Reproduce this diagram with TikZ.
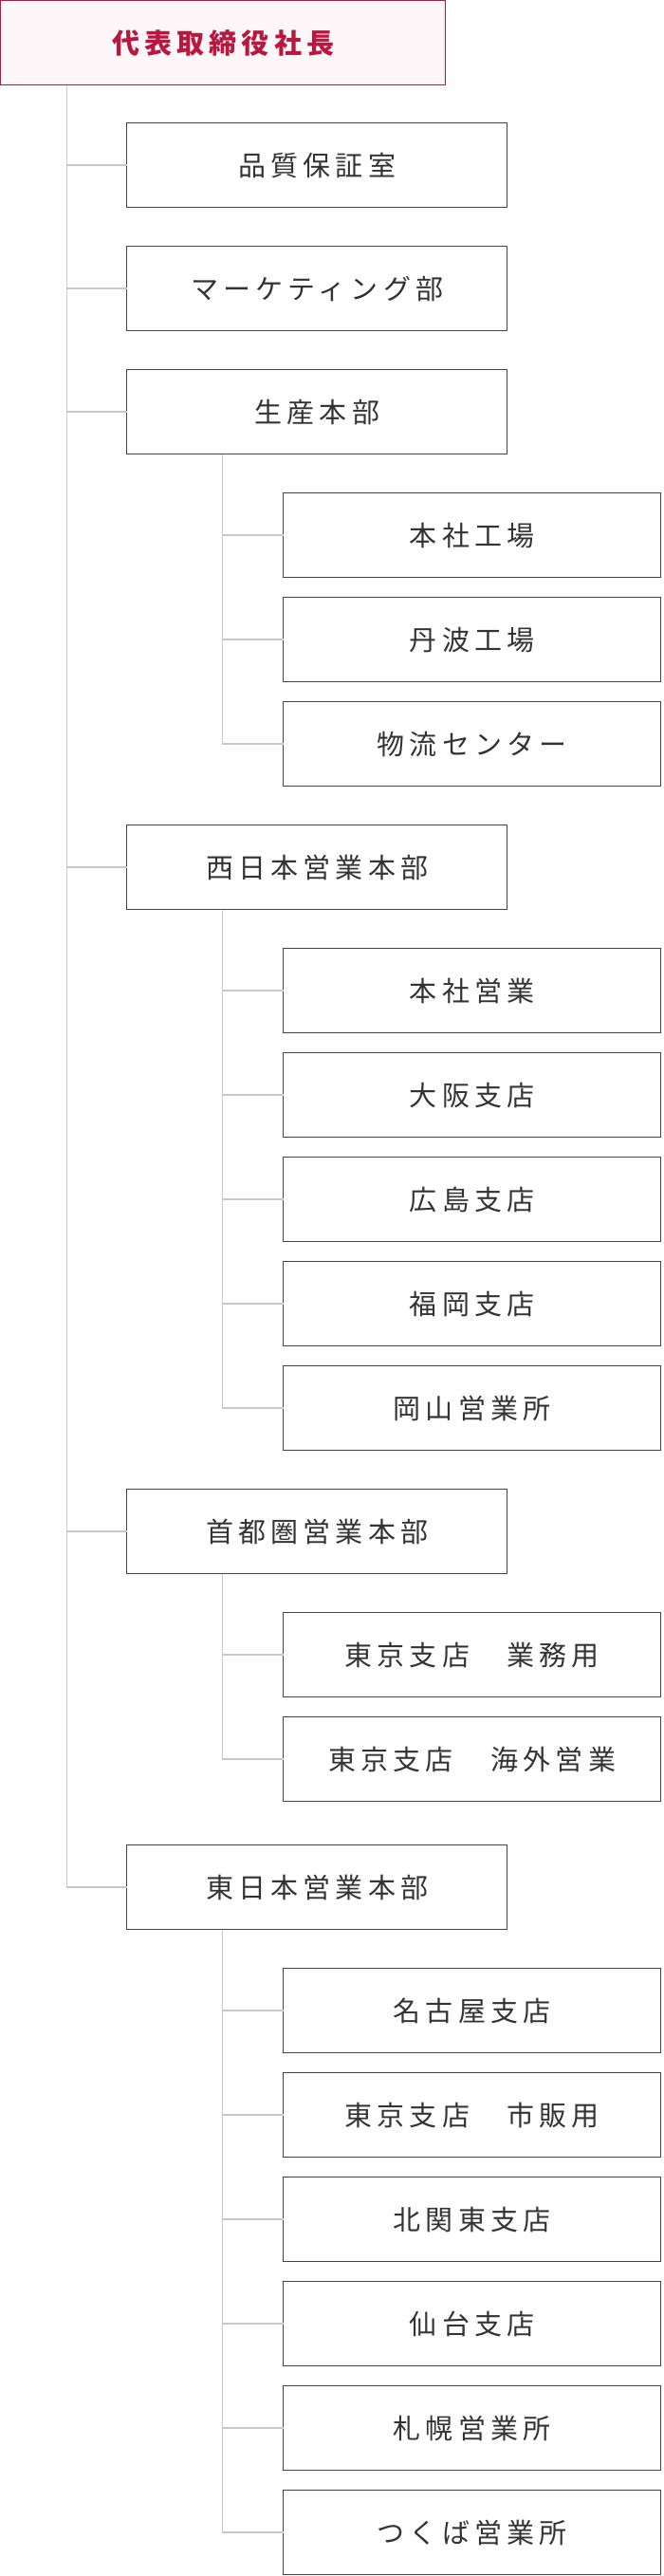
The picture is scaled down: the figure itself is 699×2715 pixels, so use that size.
\documentclass[tikz,border=0pt]{standalone}
\usepackage{fontspec}
\setmainfont{Noto Sans CJK JP}
\newfontfamily\jpfont[LetterSpace=18]{Noto Sans CJK JP}
\usepackage{xcolor}
\usetikzlibrary{positioning}

\definecolor{ceored}{HTML}{B8173F}
\definecolor{ceofill}{HTML}{FDF7F9}
\definecolor{boxline}{HTML}{444444}
\definecolor{boxtext}{HTML}{333333}
\definecolor{linkgray}{HTML}{C8C8C8}

\begin{document}
\begin{tikzpicture}[
  node distance=41pt,
  every node/.style={outer sep=0pt},
  ceo/.style={draw=ceored, fill=ceofill, line width=1.4pt, minimum width=469pt, minimum height=89pt, inner sep=0pt, text=ceored, font=\jpfont\bfseries\fontsize{29pt}{34pt}\selectfont},
  unit/.style={draw=boxline, line width=1.3pt, minimum width=401pt, minimum height=89pt, inner sep=0pt, text=boxtext, font=\jpfont\fontsize{29pt}{34pt}\selectfont},
  sub/.style={unit, minimum width=398pt},
  link/.style={draw=linkgray, line width=1.5pt}
]
\useasboundingbox (0,0) rectangle (699pt,-2715pt);

\node[ceo, anchor=north west] (ceo) at (0.7pt,-0.7pt) {代表取締役社長};

\node[unit, below=40pt of ceo.south west, anchor=north west, xshift=133pt] (hinshitsu) {品質保証室};
\node[unit, below=of hinshitsu] (marketing) {マーケティング部};
\node[unit, below=of marketing] (seisan) {生産本部};

% production
\node[sub, below=of seisan.south west, anchor=north west, xshift=165pt] (honsha) {本社工場};
\node[sub, below=21pt of honsha] (tamba) {丹波工場};
\node[sub, below=21pt of tamba] (butsuryu) {物流センター};

% west
\node[unit, below=of butsuryu.south west, anchor=north west, xshift=-165pt] (nishi) {西日本営業本部};
\node[sub, below=of nishi.south west, anchor=north west, xshift=165pt] (honei) {本社営業};
\node[sub, below=21pt of honei] (osaka) {大阪支店};
\node[sub, below=21pt of osaka] (hiroshima) {広島支店};
\node[sub, below=21pt of hiroshima] (fukuoka) {福岡支店};
\node[sub, below=21pt of fukuoka] (okayama) {岡山営業所};

% capital
\node[unit, below=of okayama.south west, anchor=north west, xshift=-165pt] (shuto) {首都圏営業本部};
\node[sub, below=of shuto.south west, anchor=north west, xshift=165pt] (gyomu) {東京支店　業務用};
\node[sub, below=21pt of gyomu] (kaigai) {東京支店　海外営業};

% east
\node[unit, below=46pt of kaigai.south west, anchor=north west, xshift=-165pt] (higashi) {東日本営業本部};
\node[sub, below=of higashi.south west, anchor=north west, xshift=165pt] (nagoya) {名古屋支店};
\node[sub, below=21pt of nagoya] (shihan) {東京支店　市販用};
\node[sub, below=21pt of shihan] (kitakanto) {北関東支店};
\node[sub, below=21pt of kitakanto] (sendai) {仙台支店};
\node[sub, below=21pt of sendai] (sapporo) {札幌営業所};
\node[sub, below=21pt of sapporo] (tsukuba) {つくば営業所};

\foreach \u in {hinshitsu,marketing,seisan,nishi,shuto,higashi}
  \draw[link] ([xshift=70pt]ceo.south west) |- (\u.west);
\foreach \s in {honsha,tamba,butsuryu}
  \draw[link] ([xshift=101pt]seisan.south west) |- (\s.west);
\foreach \s in {honei,osaka,hiroshima,fukuoka,okayama}
  \draw[link] ([xshift=101pt]nishi.south west) |- (\s.west);
\foreach \s in {gyomu,kaigai}
  \draw[link] ([xshift=101pt]shuto.south west) |- (\s.west);
\foreach \s in {nagoya,shihan,kitakanto,sendai,sapporo,tsukuba}
  \draw[link] ([xshift=101pt]higashi.south west) |- (\s.west);
\end{tikzpicture}
\end{document}
